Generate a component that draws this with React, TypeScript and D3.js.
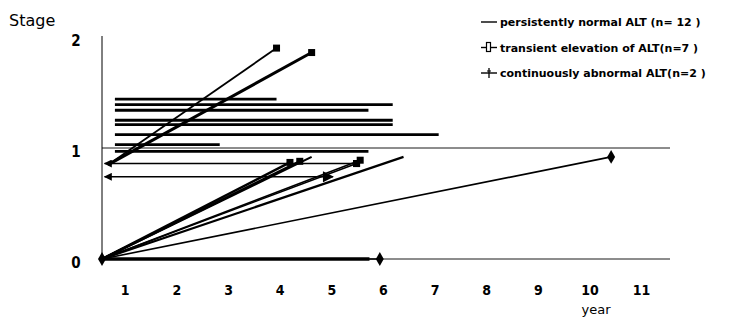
import React, { useEffect, useRef } from 'react'
import * as d3 from 'd3'

// year / stage values
const yearTicks = [1, 2, 3, 4, 5, 6, 7, 8, 9, 10, 11]
const stageTicks = [0, 1, 2]
const startYear = 0.55
const flatStart = 0.8

// persistently normal ALT: flat lines
const normalLevels = [1.44, 1.39, 1.34, 1.25, 1.21, 1.12, 1.03, 0.97]
const normalEnds = [3.93, 6.18, 5.71, 6.18, 6.18, 7.07, 2.83, 5.71]
// persistently normal ALT: rising lines from 0
const normalRise = [[6.39, 0.92], [4.61, 0.92], [5.73, 0]]

// transient elevation of ALT (square end marker)
const transientUpStart = [0.67, 0.85]
const transientUp = [[3.93, 1.9], [4.61, 1.86]]
const transientRise = [[4.19, 0.87], [4.38, 0.88], [5.48, 0.86], [5.55, 0.89]]
// double arrows
const arrowLevels = [0.86, 0.74]
const arrowEnds = [5.48, 5.02]

// continuously abnormal ALT (diamond end marker)
const abnormalRise = [[10.41, 0.92], [5.93, 0]]

const legendLabels = [
  'persistently normal ALT (n= 12 )',
  'transient elevation of ALT(n=7 )',
  'continuously abnormal ALT(n=2 )',
]

const App = () => {
  const ref = useRef(null)

  useEffect(() => {
    const svg = d3.select(ref.current)
    svg.selectAll('*').remove()

    const x = d3.scaleLinear().domain([startYear, 11.55]).range([102, 670])
    const y = d3.scaleLinear().domain([0, 1]).range([259, 148])
    const line = d3.line().x(d => x(d[0])).y(d => y(d[1]))

    const defs = svg.append('defs')
    defs.append('marker')
      .attr('id', 'arrL').attr('viewBox', '0 0 10 10').attr('refX', 1).attr('refY', 5)
      .attr('markerWidth', 9).attr('markerHeight', 8).attr('markerUnits', 'userSpaceOnUse')
      .attr('orient', 'auto')
      .append('path').attr('d', 'M10,0 L0,5 L10,10 Z').attr('fill', 'black')
    defs.append('marker')
      .attr('id', 'arrR').attr('viewBox', '0 0 10 10').attr('refX', 9).attr('refY', 5)
      .attr('markerWidth', 16).attr('markerHeight', 11).attr('markerUnits', 'userSpaceOnUse')
      .attr('orient', 'auto')
      .append('path').attr('d', 'M0,0 L10,5 L0,10 Z').attr('fill', 'black')

    const g = svg.append('g')

    // gridline at stage 1 and baseline
    g.append('line').attr('x1', x(startYear)).attr('x2', x(11.55))
      .attr('y1', y(1)).attr('y2', y(1)).attr('stroke', 'black').attr('stroke-width', 0.9)
    g.append('line').attr('x1', x(startYear)).attr('x2', x(11.55))
      .attr('y1', y(0)).attr('y2', y(0)).attr('stroke', 'black').attr('stroke-width', 0.9)
    // y axis
    g.append('line').attr('x1', 102).attr('x2', 102)
      .attr('y1', y(2) - 1).attr('y2', y(0)).attr('stroke', 'black').attr('stroke-width', 1)

    // persistently normal
    normalLevels.forEach((lv, i) => {
      g.append('path').attr('d', line([[flatStart, lv], [normalEnds[i], lv]]))
        .attr('stroke', 'black').attr('stroke-width', 2.8).attr('fill', 'none')
    })
    normalRise.forEach((p, i) => {
      g.append('path').attr('d', line([[startYear, 0], p]))
        .attr('stroke', 'black').attr('stroke-width', i === 2 ? 3.5 : 2.2).attr('fill', 'none')
    })

    // arrows
    arrowLevels.forEach((lv, i) => {
      g.append('path').attr('d', line([[startYear + 0.05, lv], [arrowEnds[i], lv]]))
        .attr('stroke', 'black').attr('stroke-width', 1.5).attr('fill', 'none')
        .attr('marker-start', 'url(#arrL)')
        .attr('marker-end', i === 1 ? 'url(#arrR)' : null)
    })

    // transient elevation
    transientUp.forEach((p, i) => {
      g.append('path').attr('d', line([transientUpStart, p]))
        .attr('stroke', 'black').attr('stroke-width', i === 0 ? 1.8 : 3).attr('fill', 'none')
    })
    transientRise.forEach((p, i) => {
      g.append('path').attr('d', line([[startYear, 0], p]))
        .attr('stroke', 'black').attr('stroke-width', i < 2 ? 2.4 : 1.6).attr('fill', 'none')
    })
    ;[...transientUp, ...transientRise, [arrowEnds[0], arrowLevels[0]]].forEach(p => {
      g.append('rect').attr('x', x(p[0]) - 3.5).attr('y', y(p[1]) - 3.5)
        .attr('width', 7).attr('height', 7).attr('fill', 'black')
    })

    // continuously abnormal
    abnormalRise.forEach(p => {
      g.append('path').attr('d', line([[startYear, 0], p]))
        .attr('stroke', 'black').attr('stroke-width', 1.6).attr('fill', 'none')
    })
    const diamond = d3.symbol().type(d3.symbolDiamond).size(55)
    ;[...abnormalRise, [startYear, 0]].forEach(p => {
      g.append('path').attr('d', diamond())
        .attr('transform', `translate(${x(p[0])},${y(p[1])})`).attr('fill', 'black')
    })

    // axis labels
    const font = '"DejaVu Sans Condensed", "DejaVu Sans", sans-serif'
    g.selectAll('.xt').data(yearTicks).enter().append('text')
      .attr('x', d => x(d)).attr('y', 295).attr('text-anchor', 'middle')
      .attr('font-family', font).attr('font-size', 14).attr('font-weight', 'bold')
      .text(d => d)
    g.selectAll('.yt').data(stageTicks).enter().append('text')
      .attr('x', 76).attr('y', d => y(d) + 9).attr('text-anchor', 'middle')
      .attr('font-family', font).attr('font-size', 15).attr('font-weight', 'bold')
      .text(d => d)
    g.append('text').attr('x', 596).attr('y', 314).attr('text-anchor', 'middle')
      .attr('font-family', '"DejaVu Sans", sans-serif').attr('font-size', 13).text('year')
    g.append('text').attr('x', 9).attr('y', 26)
      .attr('font-family', '"DejaVu Sans", sans-serif').attr('font-size', 16).text('Stage')

    // legend
    const leg = g.append('g')
    legendLabels.forEach((t, i) => {
      const ly = 22 + i * 25.5
      leg.append('line').attr('x1', 481).attr('x2', 497).attr('y1', ly).attr('y2', ly)
        .attr('stroke', 'black').attr('stroke-width', 1.4)
      if (i === 1) {
        leg.append('rect').attr('x', 486.5).attr('y', ly - 5).attr('width', 4).attr('height', 9)
          .attr('fill', 'white').attr('stroke', 'black').attr('stroke-width', 1.2)
      }
      if (i === 2) {
        leg.append('line').attr('x1', 489).attr('x2', 489).attr('y1', ly - 5).attr('y2', ly + 5)
          .attr('stroke', 'black').attr('stroke-width', 1.3)
        leg.append('line').attr('x1', 487).attr('x2', 491).attr('y1', ly - 2).attr('y2', ly - 2)
          .attr('stroke', 'black').attr('stroke-width', 1)
      }
      leg.append('text').attr('x', 500).attr('y', ly + 4)
        .attr('font-family', '"DejaVu Sans", sans-serif').attr('font-size', 11)
        .attr('font-weight', 'bold').text(t)
    })
  }, [])

  return (
    <svg ref={ref} width={729} height={320}
      style={{ position: 'absolute', left: 0, top: 0, background: 'white' }} />
  )
}

export default App
